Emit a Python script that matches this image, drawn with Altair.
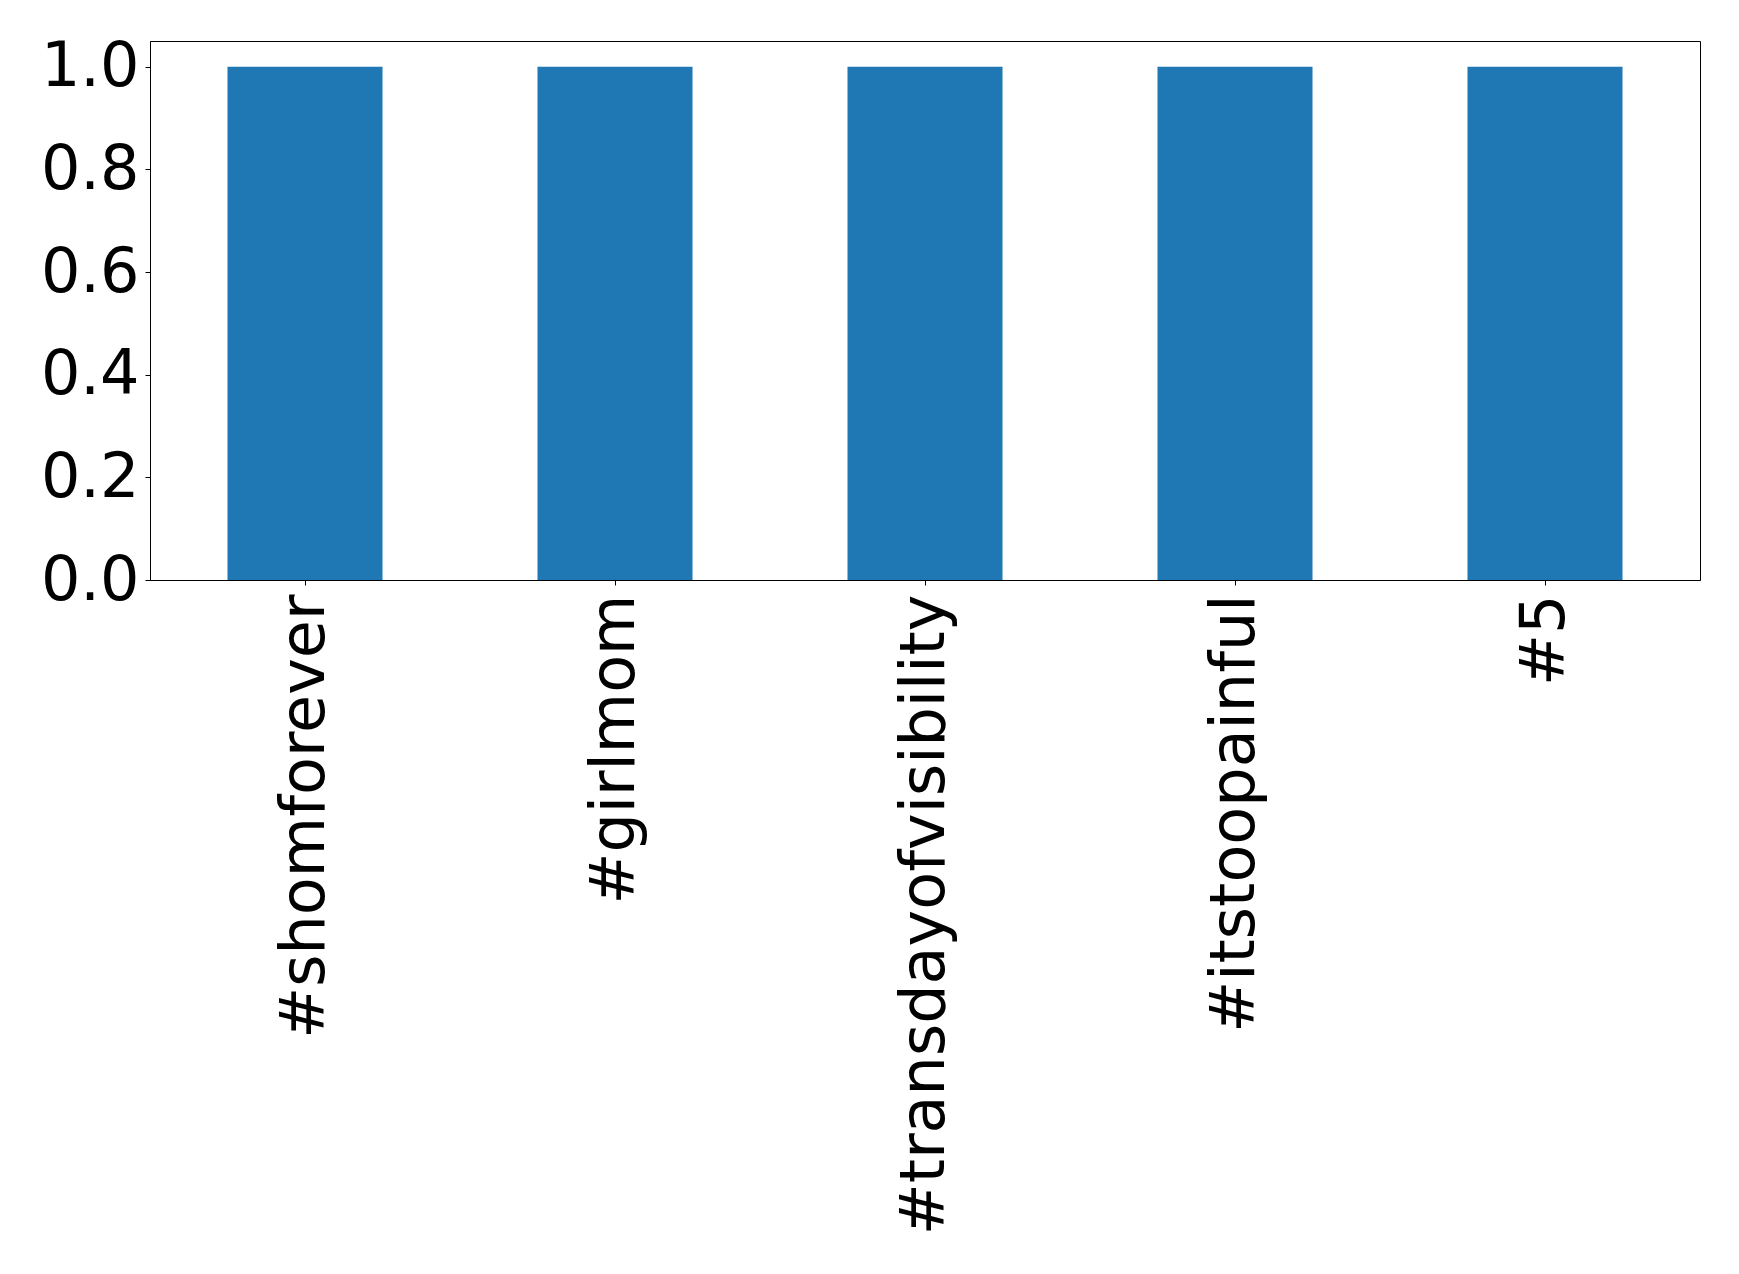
import altair as alt
import pandas as pd

categories = ["#shomforever", "#girlmom", "#transdayofvisibility", "#itstoopainful", "#5"]
values = [1, 1, 1, 1, 1]
y_ticks = [0.0, 0.2, 0.4, 0.6, 0.8, 1.0]

df = pd.DataFrame({"tag": categories, "count": values})

FONT = "DejaVu Sans"

chart = (
    alt.Chart(df)
    .mark_bar(color="#1f77b4")
    .encode(
        x=alt.X(
            "tag:N",
            sort=categories,
            title=None,
            scale=alt.Scale(paddingInner=0.5, paddingOuter=0.25),
            axis=alt.Axis(
                labelAngle=270,
                labelFont=FONT,
                labelFontSize=62,
                labelColor="black",
                labelPadding=9,
                tickSize=5,
                tickColor="black",
                tickWidth=1,
                domainColor="black",
                domainWidth=1,
                labelLimit=0,
                labelOverlap=False,
            ),
        ),
        y=alt.Y(
            "count:Q",
            title=None,
            scale=alt.Scale(domain=[0, 1.05], nice=False),
            axis=alt.Axis(
                values=y_ticks,
                format=".1f",
                grid=False,
                labelFont=FONT,
                labelFontSize=62,
                labelColor="black",
                labelPadding=6,
                tickSize=5,
                tickColor="black",
                tickWidth=1,
                domainColor="black",
                domainWidth=1,
            ),
        ),
    )
    .properties(
        width=1550,
        height=539,
        background="white",
        autosize=alt.AutoSizeParams(type="none"),
        padding={"left": 142, "top": 33, "right": 30, "bottom": 680},
    )
    .configure_view(stroke="black", strokeWidth=1)
)

chart.save("out.html", embed_options={"renderer": "svg", "actions": False})
